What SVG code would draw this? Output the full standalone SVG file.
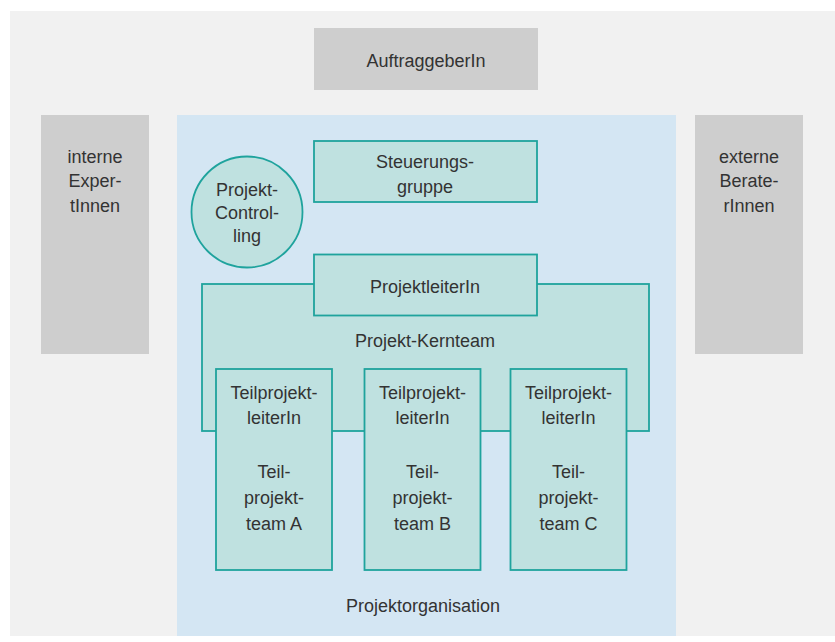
<svg xmlns="http://www.w3.org/2000/svg" width="835" height="642" viewBox="0 0 835 642">
<style>
text{font-family:"Liberation Sans",Arial,sans-serif;font-size:18px;fill:#333;text-anchor:middle}
.grey{fill:#cecece}
.teal{fill:#bfe1e0;stroke:#1fa39d;stroke-width:1.8}
</style>
<rect width="835" height="642" fill="#ffffff"/>
<rect x="10" y="11" width="825" height="625" fill="#f1f1f1"/>
<g id="projektorganisation">
<rect x="177" y="115" width="499" height="521" fill="#d4e6f3"/>
<text x="423" y="612">Projektorganisation</text>
</g>
<g id="auftraggeber">
<rect class="grey" x="314" y="28" width="224" height="62"/>
<text x="426" y="67">AuftraggeberIn</text>
</g>
<g id="interne-experten">
<rect class="grey" x="41" y="115" width="108" height="239"/>
<text x="95" y="163">interne</text>
<text x="95" y="187">Exper-</text>
<text x="95" y="212">tInnen</text>
</g>
<g id="externe-berater">
<rect class="grey" x="695" y="115" width="108" height="239"/>
<text x="749" y="163">externe</text>
<text x="749" y="187">Berate-</text>
<text x="749" y="212">rInnen</text>
</g>
<g id="steuerungsgruppe">
<rect class="teal" x="314" y="141" width="223" height="61"/>
<text x="425" y="168">Steuerungs-</text>
<text x="425" y="193">gruppe</text>
</g>
<g id="projekt-controlling">
<circle class="teal" cx="247" cy="212" r="55.5"/>
<text x="247" y="196">Projekt-</text>
<text x="247" y="219">Control-</text>
<text x="247" y="242">ling</text>
</g>
<g id="kernteam">
<rect class="teal" x="202" y="284" width="447" height="147"/>
<text x="425" y="347">Projekt-Kernteam</text>
</g>
<g id="projektleiter">
<rect class="teal" x="314" y="254.5" width="223" height="61"/>
<text x="425" y="293">ProjektleiterIn</text>
</g>
<g id="teilprojekt-a">
<rect class="teal" x="216" y="369" width="116" height="201"/>
<text x="274" y="399">Teilprojekt-</text>
<text x="274" y="424">leiterIn</text>
<text x="274" y="478">Teil-</text>
<text x="274" y="504">projekt-</text>
<text x="274" y="530">team A</text>
</g>
<g id="teilprojekt-b">
<rect class="teal" x="364.5" y="369" width="116" height="201"/>
<text x="422.5" y="399">Teilprojekt-</text>
<text x="422.5" y="424">leiterIn</text>
<text x="422.5" y="478">Teil-</text>
<text x="422.5" y="504">projekt-</text>
<text x="422.5" y="530">team B</text>
</g>
<g id="teilprojekt-c">
<rect class="teal" x="510.5" y="369" width="116" height="201"/>
<text x="568.5" y="399">Teilprojekt-</text>
<text x="568.5" y="424">leiterIn</text>
<text x="568.5" y="478">Teil-</text>
<text x="568.5" y="504">projekt-</text>
<text x="568.5" y="530">team C</text>
</g>
<g id="connectors"></g>
</svg>
